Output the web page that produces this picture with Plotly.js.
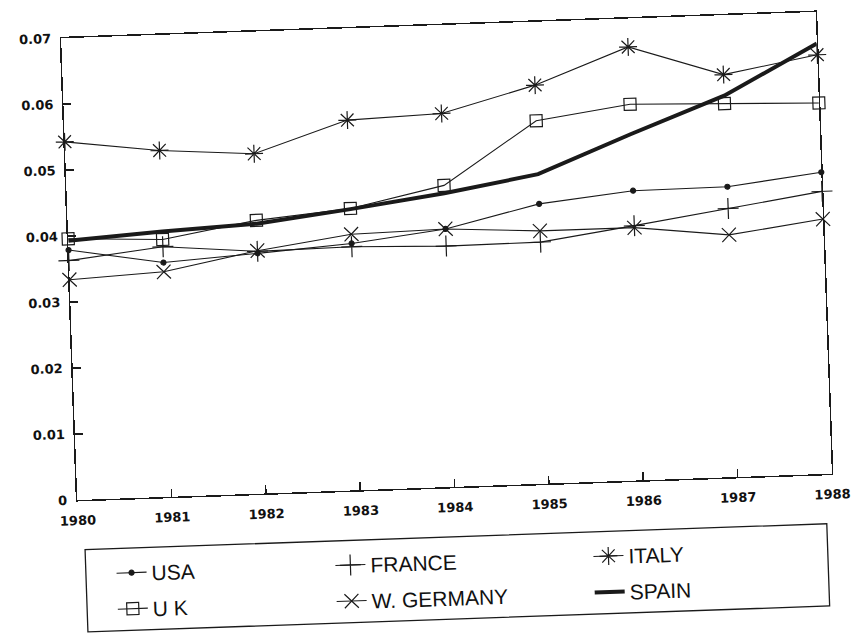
<!DOCTYPE html>
<html>
<head>
<meta charset="utf-8">
<script src="https://cdn.plot.ly/plotly-3.0.1.min.js"></script>
<style>
html,body{margin:0;padding:0;background:#fff;overflow:hidden}
#chart{width:857px;height:634px;transform:rotate(-2deg);transform-origin:446px 256px}
</style>
</head>
<body>
<div id="chart"></div>
<script>
var years = [1980, 1981, 1982, 1983, 1984, 1985, 1986, 1987, 1988];
var xTickText = ["1980", "1981", "1982", "1983", "1984", "1985", "1986", "1987", "1988"];
var yTickVals = [0, 0.01, 0.02, 0.03, 0.04, 0.05, 0.06, 0.07];
var yTickText = ["0", "0.01", "0.02", "0.03", "0.04", "0.05", "0.06", "0.07"];

var usa      = [0.0379, 0.0355, 0.0364, 0.0374, 0.0391, 0.0424, 0.0439, 0.0440, 0.0457];
var uk       = [0.0396, 0.0390, 0.0414, 0.0427, 0.0457, 0.0550, 0.0570, 0.0566, 0.0562];
var france   = [0.0363, 0.0379, 0.0367, 0.0369, 0.0365, 0.0366, 0.0386, 0.0407, 0.0428];
var wgermany = [0.0334, 0.0341, 0.0368, 0.0388, 0.0391, 0.0383, 0.0383, 0.0367, 0.0386];
var italy    = [0.0543, 0.0525, 0.0515, 0.0561, 0.0566, 0.0604, 0.0657, 0.0610, 0.0635];
var spain    = [0.0393, 0.0402, 0.0409, 0.0426, 0.0445, 0.0469, 0.0525, 0.0578, 0.0652];

var ink = '#1a1a1a';
function tr(name, y, sym, size, leg) {
  return {
    x: years, y: y, name: name, type: 'scatter', mode: 'lines+markers', legend: leg,
    cliponaxis: false,
    line: {color: ink, width: 1.1},
    marker: {symbol: sym, size: size, color: ink, line: {color: ink, width: 1.2}}
  };
}
var data = [
  tr('USA', usa, 'circle', 5, 'legend'),
  tr('U K', uk, 'square-open', 12, 'legend2'),
  tr('FRANCE', france, 'cross-thin-open', 15, 'legend3'),
  tr('W. GERMANY', wgermany, 'x-thin-open', 14, 'legend4'),
  tr('ITALY', italy, 'asterisk-open', 15, 'legend5'),
  {x: years, y: spain, name: 'SPAIN', type: 'scatter', mode: 'lines', legend: 'legend6',
   cliponaxis: false, line: {color: ink, width: 4}}
];

var legFont = {family: 'Liberation Sans, Arial, sans-serif', size: 21, color: '#111'};
function leg(x, y) {
  return {x: x, y: y, xanchor: 'left', yanchor: 'middle', bgcolor: 'rgba(0,0,0,0)',
          borderwidth: 0, font: legFont};
}
var tickFont = {family: 'DejaVu Sans, sans-serif', size: 13, color: '#111', weight: 700};

var layout = {
  width: 857, height: 634,
  margin: {l: 69, r: 33, t: 25, b: 147},
  paper_bgcolor: '#fff', plot_bgcolor: '#fff',
  showlegend: true,
  xaxis: {
    range: [1980, 1988], tickvals: years, ticktext: xTickText,
    ticks: 'inside', ticklen: 8, tickwidth: 1.5, tickcolor: ink,
    showline: true, linecolor: ink, linewidth: 1.5, mirror: true,
    showgrid: false, zeroline: false, tickfont: tickFont, ticklabelstandoff: 8
  },
  yaxis: {
    range: [0, 0.07], tickvals: yTickVals, ticktext: yTickText,
    ticks: 'inside', ticklen: 8, tickwidth: 1.5, tickcolor: ink,
    showline: true, linecolor: ink, linewidth: 1.5, mirror: true,
    showgrid: false, zeroline: false, tickfont: tickFont, ticklabelstandoff: 6
  },
  legend: leg(0.042, -0.162),
  legend2: leg(0.042, -0.240),
  legend3: leg(0.332, -0.162),
  legend4: leg(0.332, -0.240),
  legend5: leg(0.674, -0.162),
  legend6: leg(0.674, -0.240),
  shapes: [{
    type: 'rect', xref: 'paper', yref: 'paper',
    x0: 0.008, x1: 0.991, y0: -0.286, y1: -0.108,
    line: {color: ink, width: 1.3}
  }]
};

Plotly.newPlot('chart', data, layout, {displayModeBar: false, staticPlot: true});
</script>
</body>
</html>
